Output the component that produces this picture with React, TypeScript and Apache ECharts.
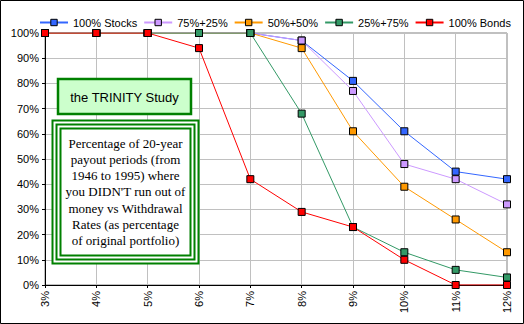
import React, { useEffect, useRef } from "react";
import * as echarts from "echarts";

const categories = ["3%", "4%", "5%", "6%", "7%", "8%", "9%", "10%", "11%", "12%"];
const seriesNames = ["100% Stocks", "75%+25%", "50%+50%", "25%+75%", "100% Bonds"];
const stocks100 = [100, 100, 100, 100, 100, 97, 81, 61, 45, 42];
const stocks75 = [100, 100, 100, 100, 100, 97, 77, 48, 42, 32];
const stocks50 = [100, 100, 100, 100, 100, 94, 61, 39, 26, 13];
const stocks25 = [100, 100, 100, 100, 100, 68, 23, 13, 6, 3];
const bonds100 = [100, 100, 100, 94, 42, 29, 23, 10, 0, 0];
const seriesColors = ["#3366ff", "#cc99ff", "#ff9900", "#339966", "#ff0000"];
const titleText = "the TRINITY Study";
const noteLines = [
  "Percentage of 20-year",
  "payout periods (from",
  "1946 to 1995) where",
  "you DIDN'T run out of",
  "money vs Withdrawal",
  "Rates (as percentage",
  "of original portfolio)",
];

export default function App() {
  const ref = useRef<HTMLDivElement>(null);
  useEffect(() => {
    document.body.style.margin = "0";
    const chart = echarts.init(ref.current!, null, { renderer: "svg" });
    const data = [stocks100, stocks75, stocks50, stocks25, bonds100];
    const font = "Liberation Sans, Arial, sans-serif";
    chart.setOption({
      animation: false,
      backgroundColor: "#ffffff",
      textStyle: { fontFamily: font },
      legend: {
        top: 12,
        left: 34,
        width: 480,
        itemWidth: 28,
        itemHeight: 8,
        itemGap: 6,
        textStyle: { fontSize: 11, color: "#000", fontFamily: font },
        data: seriesNames.map((name, i) => ({
          name,
          itemStyle: { color: seriesColors[i], borderColor: "#000", borderWidth: 1 },
        })),
      },
      grid: { left: 45, right: 17, top: 33, bottom: 39, show: true, borderColor: "#808080", borderWidth: 1 },
      xAxis: {
        type: "category",
        data: categories,
        boundaryGap: false,
        axisLine: { lineStyle: { color: "#000", width: 1 } },
        axisTick: { show: true, alignWithLabel: true, length: 3, lineStyle: { color: "#000" } },
        axisLabel: { rotate: 90, fontSize: 11, color: "#000", margin: 6, fontFamily: font },
        splitLine: { show: true, lineStyle: { color: "#c0c0c0", width: 1 } },
      },
      yAxis: {
        type: "value",
        min: 0,
        max: 100,
        interval: 10,
        axisLine: { show: true, lineStyle: { color: "#000", width: 1 } },
        axisTick: { show: true, length: 3, lineStyle: { color: "#000" } },
        axisLabel: { formatter: "{value}%", fontSize: 11, color: "#000", margin: 6, fontFamily: font },
        splitLine: { show: true, lineStyle: { color: "#c0c0c0", width: 1 } },
      },
      series: seriesNames.map((name, i) => ({
        name,
        type: "line",
        data: data[i],
        symbol: "rect",
        symbolSize: 7,
        showAllSymbol: true,
        lineStyle: { color: seriesColors[i], width: 1 },
        itemStyle: { color: seriesColors[i], borderColor: "#000", borderWidth: 1 },
        emphasis: { disabled: true },
      })),
      graphic: [
        {
          type: "rect",
          shape: { x: 0.5, y: 0.5, width: 523, height: 323 },
          style: { fill: "none", stroke: "#000", lineWidth: 1 },
          silent: true,
        },
        {
          type: "rect",
          shape: { x: 58, y: 79, width: 133, height: 35 },
          style: { fill: "#ccffcc", stroke: "#008000", lineWidth: 2.5 },
          z: 100,
        },
        {
          type: "text",
          x: 124.5,
          y: 97,
          style: { text: titleText, fontSize: 13, fontFamily: font, fill: "#000", align: "center", verticalAlign: "middle" },
          z: 101,
        },
        {
          type: "rect",
          shape: { x: 52.5, y: 120.5, width: 146, height: 143 },
          style: { fill: "#ffffff", stroke: "#008000", lineWidth: 2 },
          z: 100,
        },
        {
          type: "rect",
          shape: { x: 56.5, y: 124.5, width: 138, height: 135 },
          style: { fill: "#ffffff", stroke: "#008000", lineWidth: 2 },
          z: 100,
        },
        {
          type: "rect",
          shape: { x: 60.5, y: 128.5, width: 130, height: 127 },
          style: { fill: "#ffffff", stroke: "#008000", lineWidth: 2 },
          z: 100,
        },
        ...noteLines.map((t, i) => ({
          type: "text",
          x: 125.5,
          y: 143 + i * 16.3,
          style: {
            text: t,
            fontSize: 13,
            fontFamily: "Liberation Serif, Times New Roman, serif",
            fill: "#000",
            align: "center",
            verticalAlign: "middle",
          },
          z: 101,
        })),
      ],
    });
    return () => chart.dispose();
  }, []);
  return <div ref={ref} style={{ width: 524, height: 324 }} />;
}
